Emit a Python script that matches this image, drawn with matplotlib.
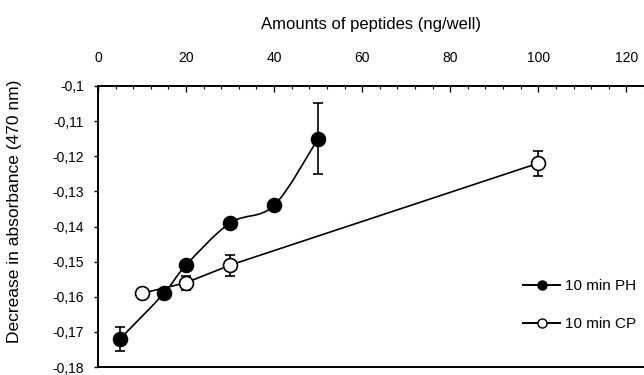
import matplotlib.pyplot as plt
from matplotlib.path import Path
from matplotlib.patches import PathPatch
from matplotlib.ticker import MultipleLocator

plt.rcParams['font.family'] = ['Liberation Sans', 'DejaVu Sans']

# 10 min PH
ph_x = [5, 15, 20, 30, 40, 50]
ph_y = [-0.172, -0.159, -0.151, -0.139, -0.134, -0.115]
ph_err = [0.0035, 0.0, 0.001, 0.0, 0.0, 0.010]

# 10 min CP
cp_x = [10, 20, 30, 100]
cp_y = [-0.159, -0.156, -0.151, -0.122]
cp_err = [0.0, 0.002, 0.003, 0.0035]

y_ticks = [-0.18, -0.17, -0.16, -0.15, -0.14, -0.13, -0.12, -0.11, -0.1]
y_labels = ['-0,18', '-0,17', '-0,16', '-0,15', '-0,14', '-0,13', '-0,12', '-0,11', '-0,1']
x_ticks = [0, 20, 40, 60, 80, 100, 120]


def smooth_path(xs, ys, k=1/6):
    # Catmull-Rom style cubic Bezier through the points (like a smoothed line)
    verts = [(xs[0], ys[0])]
    codes = [Path.MOVETO]
    n = len(xs)
    for i in range(n - 1):
        x0, y0 = (xs[i - 1], ys[i - 1]) if i > 0 else (xs[i], ys[i])
        x1, y1 = xs[i], ys[i]
        x2, y2 = xs[i + 1], ys[i + 1]
        x3, y3 = (xs[i + 2], ys[i + 2]) if i + 2 < n else (x2, y2)
        c1 = (x1 + (x2 - x0) * k, y1 + (y2 - y0) * k)
        c2 = (x2 - (x3 - x1) * k, y2 - (y3 - y1) * k)
        verts += [c1, c2, (x2, y2)]
        codes += [Path.CURVE4] * 3
    return Path(verts, codes)


fig = plt.figure(figsize=(6.44, 3.75), dpi=100)
ax = fig.add_axes([0.152, 0.021, 0.848, 0.750])

ax.add_patch(PathPatch(smooth_path(ph_x, ph_y), fill=False, lw=1.2, color='black', zorder=2))
ax.plot(cp_x, cp_y, color='black', lw=1.2, zorder=2)

ax.errorbar(ph_x, ph_y, yerr=ph_err, fmt='none', ecolor='black', elinewidth=1.2,
            capsize=3.5, capthick=1.2, zorder=3)
ax.errorbar(cp_x, cp_y, yerr=cp_err, fmt='none', ecolor='black', elinewidth=1.2,
            capsize=3.5, capthick=1.2, zorder=3)
ax.plot(ph_x, ph_y, 'o', ms=10, mfc='black', mec='black', mew=1.2, zorder=4)
ax.plot(cp_x, cp_y, 'o', ms=10, mfc='white', mec='black', mew=1.2, zorder=4)

# legend handles
h_ph, = ax.plot([], [], '-o', color='black', lw=1.4, ms=6.5, mfc='black', mec='black')
h_cp, = ax.plot([], [], '-o', color='black', lw=1.4, ms=6.5, mfc='white', mec='black')
ax.legend([h_ph, h_cp], ['10 min PH', '10 min CP'], loc='lower right',
          bbox_to_anchor=(1.01, 0.08), frameon=False, fontsize=11,
          handlelength=2.4, handletextpad=0.3, labelspacing=1.55)

ax.set_xlim(0, 124)
ax.set_ylim(-0.18, -0.1)

ax.xaxis.tick_top()
ax.xaxis.set_label_position('top')
ax.set_xticks(x_ticks)
ax.set_xticklabels([str(v) for v in x_ticks], fontsize=10)
ax.xaxis.set_minor_locator(MultipleLocator(4))
ax.tick_params(axis='x', which='major', direction='in', length=4, width=1, pad=15, top=True, bottom=False)
ax.tick_params(axis='x', which='minor', direction='in', length=2, width=0.8, top=True, bottom=False)
ax.set_xlabel('Amounts of peptides (ng/well)', fontsize=12, labelpad=16)

ax.set_yticks(y_ticks)
ax.set_yticklabels(y_labels, fontsize=10)
ax.tick_params(axis='y', direction='out', length=3, width=1, pad=7)
ax.set_ylabel('Decrease in absorbance (470 nm)', fontsize=12.5)
ax.yaxis.set_label_coords(-0.139, 0.555)

ax.spines['right'].set_visible(False)
for s in ['left', 'top', 'bottom']:
    ax.spines[s].set_linewidth(1.4)

fig.savefig('out.png', dpi=100)
